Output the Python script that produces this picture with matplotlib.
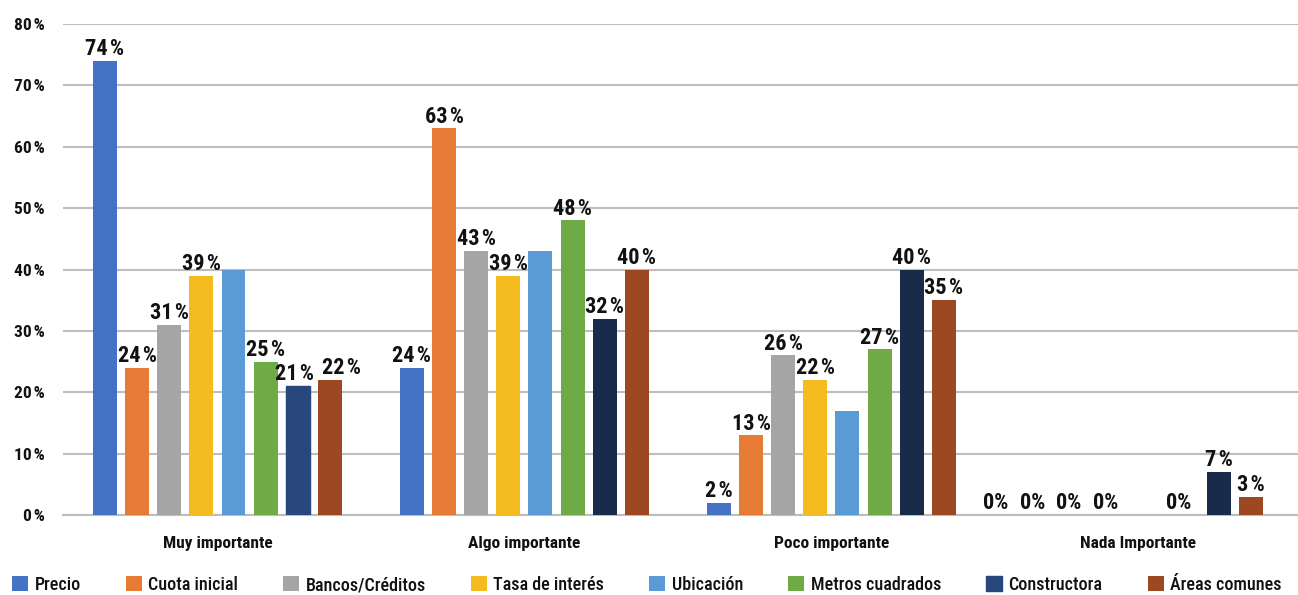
import matplotlib.pyplot as plt
import numpy as np

# datos
categorias = ['Muy importante', 'Algo importante', 'Poco importante', 'Nada Importante']
series = ['Precio', 'Cuota inicial', 'Bancos/Créditos', 'Tasa de interés',
          'Ubicación', 'Metros cuadrados', 'Constructora', 'Áreas comunes']
precio = [74, 24, 2, 0]
cuota = [24, 63, 13, 0]
bancos = [31, 43, 26, 0]
tasa = [39, 39, 22, 0]
ubicacion = [40, 43, 17, 0]
metros = [25, 48, 27, 0]
constructora = [21, 32, 40, 7]
areas = [22, 40, 35, 3]
yticks = [0, 10, 20, 30, 40, 50, 60, 70, 80]

valores = [precio, cuota, bancos, tasa, ubicacion, metros, constructora, areas]
colores = ['#4472C4', '#E67B35', '#A5A5A5', '#F4BB1F',
           '#5B9BD5', '#6FAA46', '#182B4B', '#9C4822']

plt.rcParams['font.family'] = ['Roboto Condensed', 'Archivo Narrow',
                               'Barlow Semi Condensed', 'DejaVu Sans']

fig = plt.figure(figsize=(12.98, 5.95), dpi=100)
ax = fig.add_axes([63 / 1298, 1 - 515 / 595, 1235 / 1298, 491 / 595])

x = np.arange(len(categorias))
paso = 0.1047
ancho = 0.078

for i, (nombre, vals, col) in enumerate(zip(series, valores, colores)):
    pos = x + (i - 3.5) * paso
    barras = ax.bar(pos, vals, width=ancho, color=col, label=nombre, zorder=3)
    if nombre == 'Constructora':
        barras[0].set_color('#28477C')
    if nombre == 'Ubicación':
        continue  # sin etiquetas en el original
    for j, (b, v) in enumerate(zip(barras, vals)):
        dx = 0
        txt = f'{v}\u200a%'
        if v == 0:
            dx = -30 + i * 4.5  # los 0% aparecen corridos a la izquierda
            txt = f'{v}%'
        if j == 0 and nombre == 'Áreas comunes':
            dx = 12
        if j == 0 and nombre == 'Constructora':
            dx = -3
        ax.annotate(txt, (b.get_x() + b.get_width() / 2, v),
                    xytext=(dx * 0.72, 0.5), textcoords='offset points',
                    ha='center', va='bottom', fontsize=16, fontweight='bold',
                    color='#111111', zorder=4)

ax.set_xlim(-0.503, 3.52)
ax.set_ylim(0, 80)
ax.set_yticks(yticks)
ax.set_yticklabels([f'{t}\u200a%' for t in yticks], fontsize=12.5, fontweight='bold')
ax.set_xticks(x)
ax.set_xticklabels(categorias, fontsize=12.5, fontweight='bold')
ax.tick_params(axis='both', length=0, labelcolor='#111111')
ax.tick_params(axis='x', pad=15)
ax.tick_params(axis='y', pad=13)
ax.yaxis.grid(True, color='#BDBDBD', linewidth=1.5, zorder=0)
for s in ['top', 'right', 'left']:
    ax.spines[s].set_visible(False)
ax.spines['bottom'].set_color('#BDBDBD')
ax.spines['bottom'].set_linewidth(1.5)

leg = fig.legend(loc='lower left', bbox_to_anchor=(12 / 1298, 1 / 595), ncol=8,
                 frameon=False, prop={'size': 13, 'weight': 'medium'},
                 handlelength=0.89, handleheight=0.89, handletextpad=0.35,
                 columnspacing=2.5, borderpad=0, borderaxespad=0)
for t in leg.get_texts():
    t.set_color('#111111')

fig.savefig('out.png', dpi=100)
